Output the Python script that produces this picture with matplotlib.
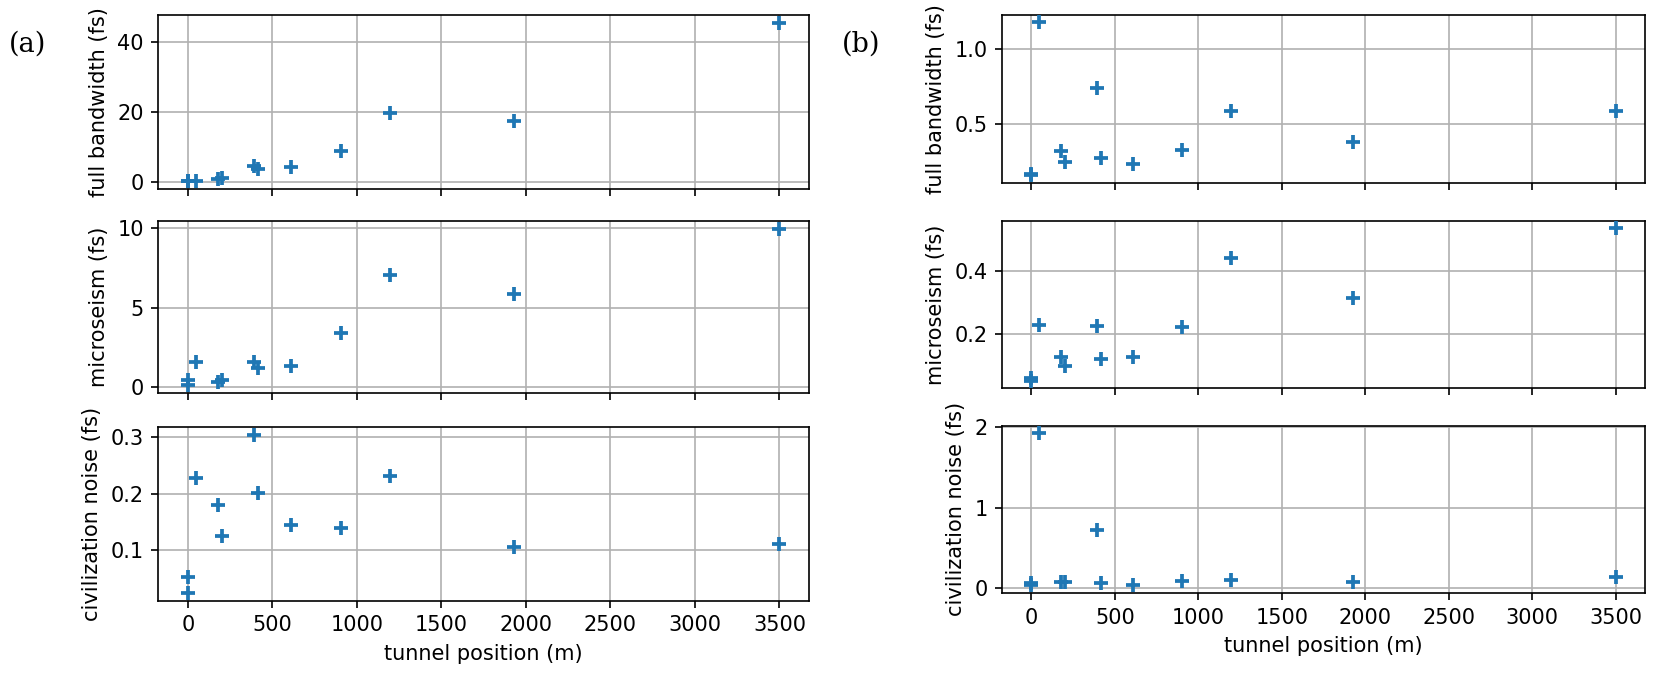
import matplotlib
matplotlib.use("Agg")
import matplotlib.pyplot as plt

# tunnel positions (m)
pos = [0, 0, 47, 178, 203, 390, 416, 609, 903, 1197, 1928, 3500]

# (a)
a_full = [0.4, 0.3, 0.3, 0.8, 1.2, 4.6, 3.7, 4.4, 8.9, 19.6, 17.4, 45.3]
a_micro = [0.44, 0.12, 1.58, 0.31, 0.44, 1.58, 1.21, 1.33, 3.4, 7.08, 5.88, 9.96]
a_civ = [0.052, 0.023, 0.227, 0.179, 0.125, 0.304, 0.201, 0.143, 0.139, 0.232, 0.105, 0.110]

# (b)
b_full = [0.16, 0.17, 1.18, 0.318, 0.25, 0.743, 0.273, 0.232, 0.329, 0.586, 0.381, 0.586]
b_micro = [0.055, 0.062, 0.229, 0.130, 0.100, 0.226, 0.123, 0.130, 0.223, 0.440, 0.314, 0.533]
b_civ = [0.035, 0.06, 1.92, 0.074, 0.074, 0.72, 0.066, 0.045, 0.095, 0.100, 0.074, 0.136]

ylabels = ['full bandwidth (fs)', 'microseism (fs)', 'civilization noise (fs)']
a_ticks = [[0, 20, 40], [0, 5, 10], [0.1, 0.2, 0.3]]
b_ticks = [[0.5, 1.0], [0.2, 0.4], [0, 1, 2]]

fig = plt.figure(figsize=(1661/150, 683/150), dpi=150)

left_rects = [[0.0953, 0.7233, 0.3918, 0.2548],
              [0.0953, 0.4246, 0.3918, 0.2518],
              [0.0953, 0.1205, 0.3918, 0.2539]]
right_rects = [[0.6034, 0.7325, 0.3868, 0.2460],
               [0.6034, 0.4315, 0.3868, 0.2454],
               [0.6034, 0.1318, 0.3868, 0.2449]]

for rects, series, ticks in [(left_rects, [a_full, a_micro, a_civ], a_ticks),
                             (right_rects, [b_full, b_micro, b_civ], b_ticks)]:
    for i in range(3):
        ax = fig.add_axes(rects[i])
        ax.scatter(pos, series[i], marker='+', s=50, linewidths=1.8, color='tab:blue', zorder=3)
        ax.set_ylabel(ylabels[i])
        ax.set_yticks(ticks[i])
        ax.set_xticks([0, 500, 1000, 1500, 2000, 2500, 3000, 3500])
        ax.grid(True)
        ax.set_axisbelow(True)
        if i < 2:
            ax.tick_params(labelbottom=False)
        else:
            ax.set_xlabel('tunnel position (m)')

fig.text(28/1661, 1 - 44/683, '(a)', family='DejaVu Serif', fontsize=13, ha='center', va='center')
fig.text(861/1661, 1 - 44/683, '(b)', family='DejaVu Serif', fontsize=13, ha='center', va='center')

fig.savefig('out.png', dpi=150)
